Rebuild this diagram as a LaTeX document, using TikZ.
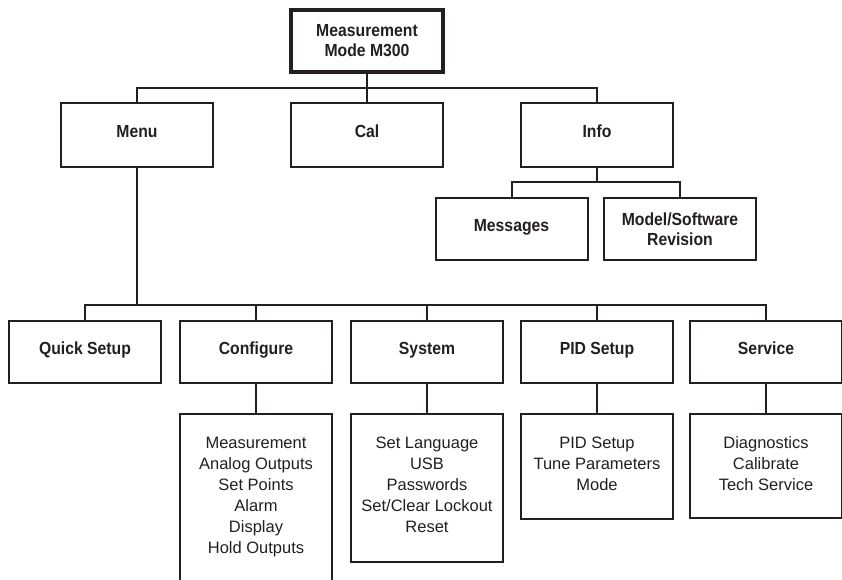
\documentclass[tikz,border=0pt]{standalone}
\usepackage{fontspec}
\setmainfont{Liberation Sans}
\newfontfamily\bcond{Liberation Sans}[FakeStretch=0.9]
\definecolor{inkc}{HTML}{231F20}
\begin{document}
\begin{tikzpicture}[x=1pt,y=-1pt,
  box/.style={draw=inkc, line width=2pt, minimum width=152pt, minimum height=62pt,
    inner sep=0pt, outer sep=0pt, align=center, text=inkc,
    font=\bcond\fontsize{17.5}{20.5}\selectfont\bfseries},
  oneline/.style={text height=13pt, text depth=8pt},
  mainbox/.style={box, line width=4pt},
  subbox/.style={draw=inkc, line width=2pt, minimum width=152pt, anchor=north,
    inner sep=0pt, outer sep=0pt},
  subtext/.style={anchor=north, inner sep=0pt, align=center, text=inkc,
    font=\fontsize{16.5}{21}\selectfont},
  wire/.style={draw=inkc, line width=2pt}]
\useasboundingbox (0,0) rectangle (842,579);
\clip (0,0) rectangle (842,579);

% top level
\node[mainbox] (top) at (367,40.5) {Measurement\\Mode M300};
\node[box, oneline, minimum height=64pt] (menu) at (137,135) {Menu};
\node[box, oneline, minimum height=64pt] (cal) at (367,135) {Cal};
\node[box, oneline, minimum height=64pt] (info) at (597,135) {Info};
\coordinate (bus1) at (367,88);
\draw[wire] (top.south) -- (cal.north);
\draw[wire] (menu.north) -- (menu.north |- bus1) -- (info.north |- bus1) -- (info.north);

% info subtree
\node[box, oneline] (msg) at (511.5,229) {Messages};
\node[box] (model) at (680,229) {Model/Software\\Revision};
\coordinate (bus2) at (597,182);
\draw[wire] (info.south) -- (info.south |- bus2);
\draw[wire] (msg.north) -- (msg.north |- bus2) -- (model.north |- bus2) -- (model.north);

% menu subtree
\node[box, oneline] (quick) at (85,352) {Quick Setup};
\node[box, oneline] (conf) at (256,352) {Configure};
\node[box, oneline] (sys) at (427,352) {System};
\node[box, oneline] (pid) at (597,352) {PID Setup};
\node[box, oneline] (serv) at (766,352) {Service};
\coordinate (bus3) at (427,305);
\draw[wire] (menu.south) -- (menu.south |- bus3);
\draw[wire] (quick.north) -- (quick.north |- bus3) -- (serv.north |- bus3) -- (serv.north);
\draw[wire] (conf.north) -- (conf.north |- bus3);
\draw[wire] (sys.north) -- (sys.north |- bus3);
\draw[wire] (pid.north) -- (pid.north |- bus3);

% sub boxes
\node[subbox, draw=none, minimum height=190pt] (confsub) at (256,414) {};
\draw[wire] (confsub.south west) -- (confsub.north west) -- (confsub.north east) -- (confsub.south east);
\node[subbox, minimum height=148pt] (syssub) at (427,414) {};
\node[subbox, minimum height=105pt] (pidsub) at (597,414) {};
\node[subbox, minimum height=104pt] (servsub) at (766,414) {};
\draw[wire] (conf.south) -- (confsub.north);
\draw[wire] (sys.south) -- (syssub.north);
\draw[wire] (pid.south) -- (pidsub.north);
\draw[wire] (serv.south) -- (servsub.north);

\node[subtext] (conftext) at ([yshift=-22.5pt]confsub.north) {Measurement\\Analog Outputs\\Set Points\\Alarm\\Display\\Hold Outputs};
\node[subtext] (systext) at ([yshift=-22.5pt]syssub.north) {Set Language\\USB\\Passwords\\Set/Clear Lockout\\Reset};
\node[subtext] (pidtext) at ([yshift=-22.5pt]pidsub.north) {PID Setup\\Tune Parameters\\Mode};
\node[subtext] (servtext) at ([yshift=-22.5pt]servsub.north) {Diagnostics\\Calibrate\\Tech Service};
\end{tikzpicture}
\end{document}
